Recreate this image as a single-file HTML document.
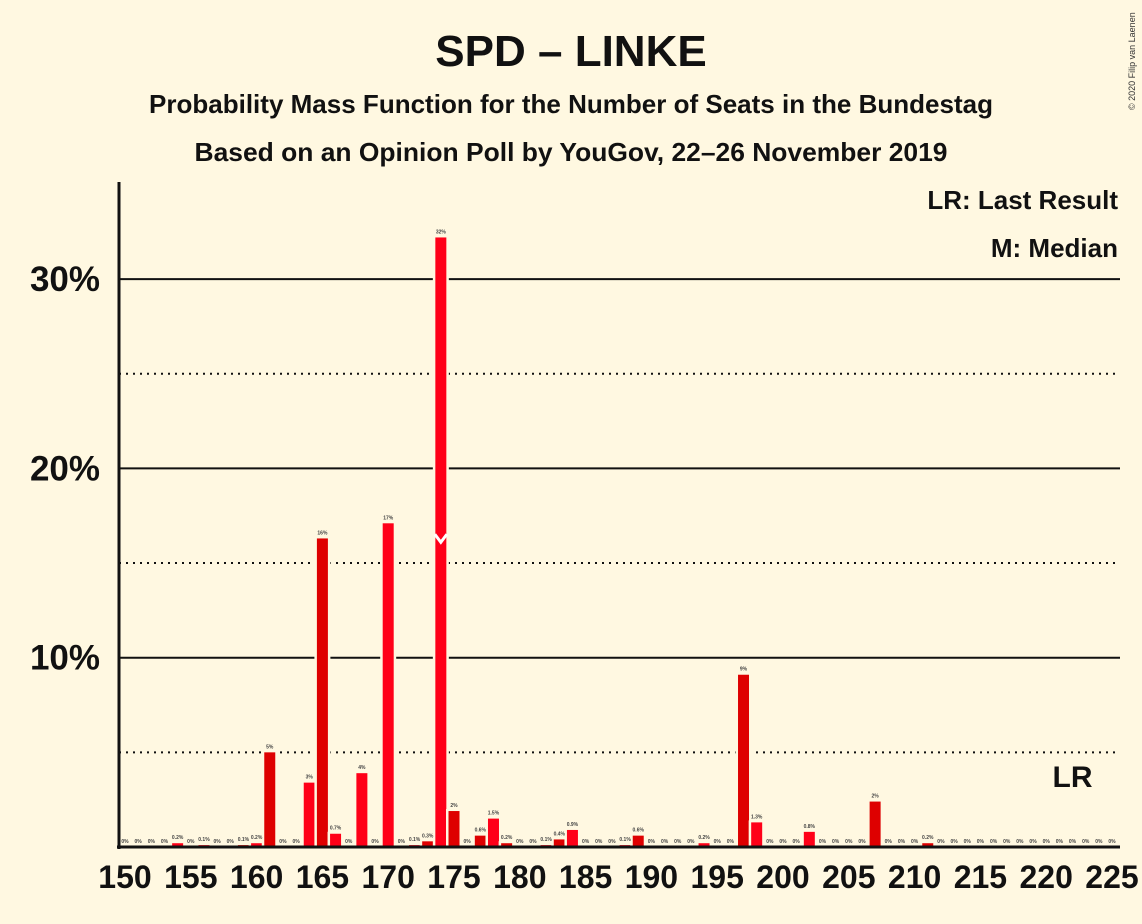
<!DOCTYPE html>
<html><head><meta charset="utf-8"><style>
body{margin:0;background:#FFF8E1;}
svg{display:block;font-family:"Liberation Sans",sans-serif;}
</style></head><body>
<svg id="chart" width="1142" height="924">
<rect width="1142" height="924" fill="#FFF8E1"/>
<text x="571" y="66" text-anchor="middle" font-size="44" font-weight="bold" fill="#111">SPD – LINKE</text>
<text x="571" y="113" text-anchor="middle" font-size="26" font-weight="bold" fill="#111" textLength="844" lengthAdjust="spacingAndGlyphs">Probability Mass Function for the Number of Seats in the Bundestag</text>
<text x="571" y="161" text-anchor="middle" font-size="26" font-weight="bold" fill="#111" textLength="753" lengthAdjust="spacingAndGlyphs">Based on an Opinion Poll by YouGov, 22–26 November 2019</text>
<text x="1135" y="110" font-size="9" fill="#333" transform="rotate(-90 1135 110)">© 2020 Filip van Laenen</text>
<g id="grid"></g>
<g id="bars"></g>
<g id="labels"></g>
<g id="xt"></g>
<text x="1118" y="209" text-anchor="end" font-size="26" font-weight="bold" fill="#111">LR: Last Result</text>
<text x="1118" y="257" text-anchor="end" font-size="26" font-weight="bold" fill="#111">M: Median</text>
<line x1="119" y1="182" x2="119" y2="849" stroke="#111" stroke-width="3"/>
<line x1="117" y1="847" x2="1120" y2="847" stroke="#111" stroke-width="3"/>
</svg>
<script>
const seats=[];for(let s=150;s<=225;s++)seats.push(s);
const probs=[0,0,0,0,0.2,0,0.1,0,0,0.1,0.2,5,0,0,3.4,16.3,0.7,0,3.9,0,17.1,0,0.1,0.3,32.2,1.9,0,0.6,1.5,0.2,0,0,0.1,0.4,0.9,0,0,0,0.1,0.6,0,0,0,0,0.2,0,0,9.1,1.3,0,0,0,0.8,0,0,0,0,2.4,0,0,0,0.2,0,0,0,0,0,0,0,0,0,0,0,0,0,0];
const labelsTxt=probs.map(p=>p===0?"0%":(p<1.6&&p%1!==0?p+"%":Math.round(p)+"%"));
const yTicks=[10,20,30];
const yMinor=[5,15,25];
const xTicks=[150,155,160,165,170,175,180,185,190,195,200,205,210,215,220,225];
const median=174, lastResult=222;
const NS="http://www.w3.org/2000/svg";
const X=s=>125+(s-150)*13.16;
const Y=p=>847-p*18.93;
function mk(t,a,par){const e=document.createElementNS(NS,t);for(const k in a)e.setAttribute(k,a[k]);document.getElementById(par).appendChild(e);return e;}
yMinor.forEach(v=>{const l=mk('line',{x1:119,x2:1120,y1:Y(v),y2:Y(v),stroke:'#111','stroke-width':2,'stroke-dasharray':'2,5'},'grid');

});
yTicks.forEach(v=>{const l=mk('line',{x1:119,x2:1120,y1:Y(v),y2:Y(v),stroke:'#111','stroke-width':2},'grid');


const t=mk('text',{x:100,y:Y(v)+12,'text-anchor':'end','font-size':35,'font-weight':'bold',fill:'#111'},'grid');t.textContent=v+'%';

});
seats.forEach((s,i)=>{const p=probs[i];const x=X(s);
if(p>0){const h=847-Y(p);
const bg=mk('rect',{x:x-8,y:Y(p)-2,width:16,height:h+2,fill:'#FFF8E1'},'bars');


const r=mk('rect',{x:x-5.5,y:Y(p),width:11,height:h,fill:s%2?'#DE0000':'#FF0018'},'bars');

}
const t=mk('text',{x:x,y:Y(p)-4,'text-anchor':'middle','font-size':5,'font-weight':'bold',fill:'#444'},'labels');t.textContent=labelsTxt[i];

});
const mi=seats.indexOf(median);const mx=X(median),my=Y(probs[mi]/2);
const m=mk('polyline',{points:`${mx-6},${my-8} ${mx},${my} ${mx+6},${my-8}`,fill:'none',stroke:'#fff','stroke-width':3},'bars');


const lr=mk('text',{x:X(lastResult),y:787,'text-anchor':'middle','font-size':30,'font-weight':'bold',fill:'#111'},'xt');lr.textContent='LR';


xTicks.forEach(s=>{const t=mk('text',{x:X(s),y:888,'text-anchor':'middle','font-size':32,'font-weight':'bold',fill:'#111'},'xt');t.textContent=s;

});
</script>
</body></html>
